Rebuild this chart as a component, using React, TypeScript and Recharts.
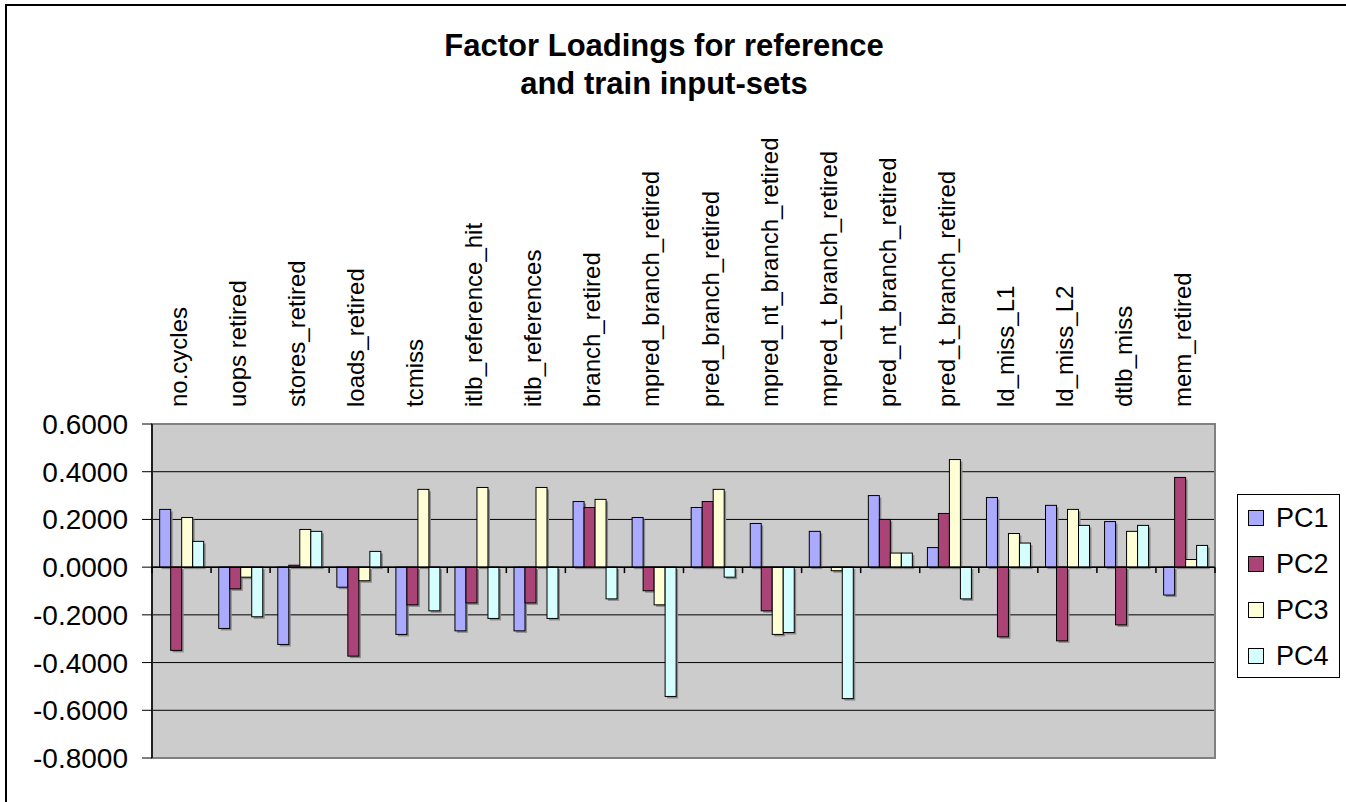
import React from "react";
import {
  BarChart,
  Bar,
  XAxis,
  YAxis,
  CartesianGrid,
  ReferenceLine,
  ReferenceArea,
  Legend,
} from "recharts";

const FONT = "'Liberation Sans', Arial, Helvetica, sans-serif";

const categories = [
  "no.cycles",
  "uops retired",
  "stores_retired",
  "loads_retired",
  "tcmiss",
  "itlb_reference_hit",
  "itlb_references",
  "branch_retired",
  "mpred_branch_retired",
  "pred_branch_retired",
  "mpred_nt_branch_retired",
  "mpred_t_branch_retired",
  "pred_nt_branch_retired",
  "pred_t_branch_retired",
  "ld_miss_L1",
  "ld_miss_L2",
  "dtlb_miss",
  "mem_retired",
];

const pc1 = [0.242, -0.257, -0.324, -0.084, -0.282, -0.267, -0.267, 0.275, 0.208, 0.25, 0.183, 0.15, 0.3, 0.082, 0.292, 0.259, 0.191, -0.117];
const pc2 = [-0.349, -0.091, 0.008, -0.373, -0.158, -0.15, -0.15, 0.25, -0.099, 0.275, -0.183, 0.0, 0.2, 0.225, -0.292, -0.309, -0.242, 0.376];
const pc3 = [0.208, -0.042, 0.158, -0.057, 0.326, 0.334, 0.334, 0.284, -0.158, 0.326, -0.282, -0.015, 0.059, 0.451, 0.141, 0.242, 0.15, 0.032];
const pc4 = [0.108, -0.208, 0.15, 0.066, -0.183, -0.215, -0.215, -0.133, -0.542, -0.042, -0.274, -0.551, 0.059, -0.133, 0.101, 0.175, 0.175, 0.091];

const seriesNames = ["PC1", "PC2", "PC3", "PC4"];
const seriesColors = ["#AAAAFF", "#AA4477", "#FFFFD5", "#D5FFFF"];
const yTicks = [-0.8, -0.6, -0.4, -0.2, 0, 0.2, 0.4, 0.6];

const data = categories.map((name, i) => ({
  name,
  PC1: pc1[i],
  PC2: pc2[i],
  PC3: pc3[i],
  PC4: pc4[i],
}));

const ShadowBar = (props: any) => {
  const { x, y, width, height, fill } = props;
  if (x == null || y == null || !width) return null;
  const top = Math.min(y, y + height);
  const h = Math.abs(height);
  return (
    <g>
      <rect x={x + 2} y={top + 2} width={width} height={h} fill="#8a8a8a" />
      <rect x={x} y={top} width={width} height={h} fill={fill} stroke="#000" strokeWidth={1} />
    </g>
  );
};

const CatTick = (props: any) => {
  const { x, y, payload } = props;
  return (
    <text
      x={x}
      y={y}
      dy={-3}
      transform={`rotate(-90, ${x}, ${y})`}
      textAnchor="start"
      dominantBaseline="central"
      fontSize={24}
      fontFamily={FONT}
      fill="#000"
    >
      {payload.value}
    </text>
  );
};

const LegendContent = () => (
  <div
    style={{
      width: 101,
      height: 182,
      border: "1px solid #000",
      background: "#fff",
      fontFamily: FONT,
      fontSize: 27,
      boxSizing: "content-box",
    }}
  >
    {seriesNames.map((n, i) => (
      <div key={n} style={{ height: 46, display: "flex", alignItems: "center" }}>
        <div
          style={{
            width: 14,
            height: 14,
            marginLeft: 10,
            marginRight: 12,
            background: seriesColors[i],
            border: "1px solid #000",
          }}
        />
        <span style={{ color: "#000" }}>{n}</span>
      </div>
    ))}
  </div>
);

export default function App() {
  return (
    <div
      style={{
        position: "absolute",
        left: 0,
        top: 0,
        width: 1346,
        height: 802,
        overflow: "hidden",
        background: "#fff",
      }}
    >
      <div
        style={{
          position: "absolute",
          left: 5,
          top: 4,
          width: 1400,
          height: 900,
          border: "2px solid #000",
          boxSizing: "border-box",
        }}
      />
      <div
        style={{
          position: "absolute",
          left: 364,
          top: 27,
          width: 600,
          textAlign: "center",
          fontFamily: FONT,
          fontWeight: "bold",
          fontSize: 31,
          lineHeight: "38px",
          color: "#000",
        }}
      >
        Factor Loadings for reference
        <br />
        and train input-sets
      </div>
      <div style={{ position: "absolute", left: 0, top: 0 }}>
        <BarChart
          width={1346}
          height={802}
          data={data}
          margin={{ top: 0, right: 131, bottom: 44, left: 0 }}
          barGap={0}
          barCategoryGap="13%"
        >
          <CartesianGrid xAxisId="cat" vertical={false} stroke="#000" fill="#CCCCCC" fillOpacity={1} />
          <XAxis
            xAxisId="cat"
            dataKey="name"
            orientation="top"
            height={424}
            interval={0}
            tickLine={false}
            axisLine={false}
            tickSize={0}
            tickMargin={17}
            tick={<CatTick />}
          />
          <YAxis
            domain={[-0.8, 0.6]}
            ticks={yTicks}
            interval={0}
            width={152}
            tickSize={10}
            tickMargin={14}
            allowDataOverflow
            tickFormatter={(v: number) => v.toFixed(4)}
            axisLine={{ stroke: "#000", strokeWidth: 1.5 }}
            tickLine={{ stroke: "#000" }}
            tick={{ fill: "#000", fontSize: 28, fontFamily: FONT }}
          />
          <ReferenceArea
            xAxisId="cat"
            y1={-0.8}
            y2={0.6}
            fill="none"
            stroke="#808080"
            strokeWidth={2}
            ifOverflow="visible"
          />
          {seriesNames.map((n, i) => (
            <Bar
              key={n}
              xAxisId="cat"
              dataKey={n}
              fill={seriesColors[i]}
              isAnimationActive={false}
              shape={<ShadowBar />}
            />
          ))}
          <ReferenceLine y={0} xAxisId="cat" stroke="#000" strokeWidth={1.5} />
          {categories.map((c) => (
            <ReferenceLine
              key={c}
              xAxisId="cat"
              position="start"
              segment={[
                { x: c, y: 0 },
                { x: c, y: -0.025 },
              ]}
              stroke="#000"
              strokeWidth={1.5}
              ifOverflow="visible"
            />
          ))}
          <ReferenceLine
            xAxisId="cat"
            position="end"
            segment={[
              { x: categories[categories.length - 1], y: 0 },
              { x: categories[categories.length - 1], y: -0.025 },
            ]}
            stroke="#000"
            strokeWidth={1.5}
            ifOverflow="visible"
          />
          <Legend
            layout="vertical"
            align="center"
            verticalAlign="middle"
            content={<LegendContent />}
            wrapperStyle={{ left: 1237, top: 494, width: 103, height: 184 }}
          />
        </BarChart>
      </div>
    </div>
  );
}
